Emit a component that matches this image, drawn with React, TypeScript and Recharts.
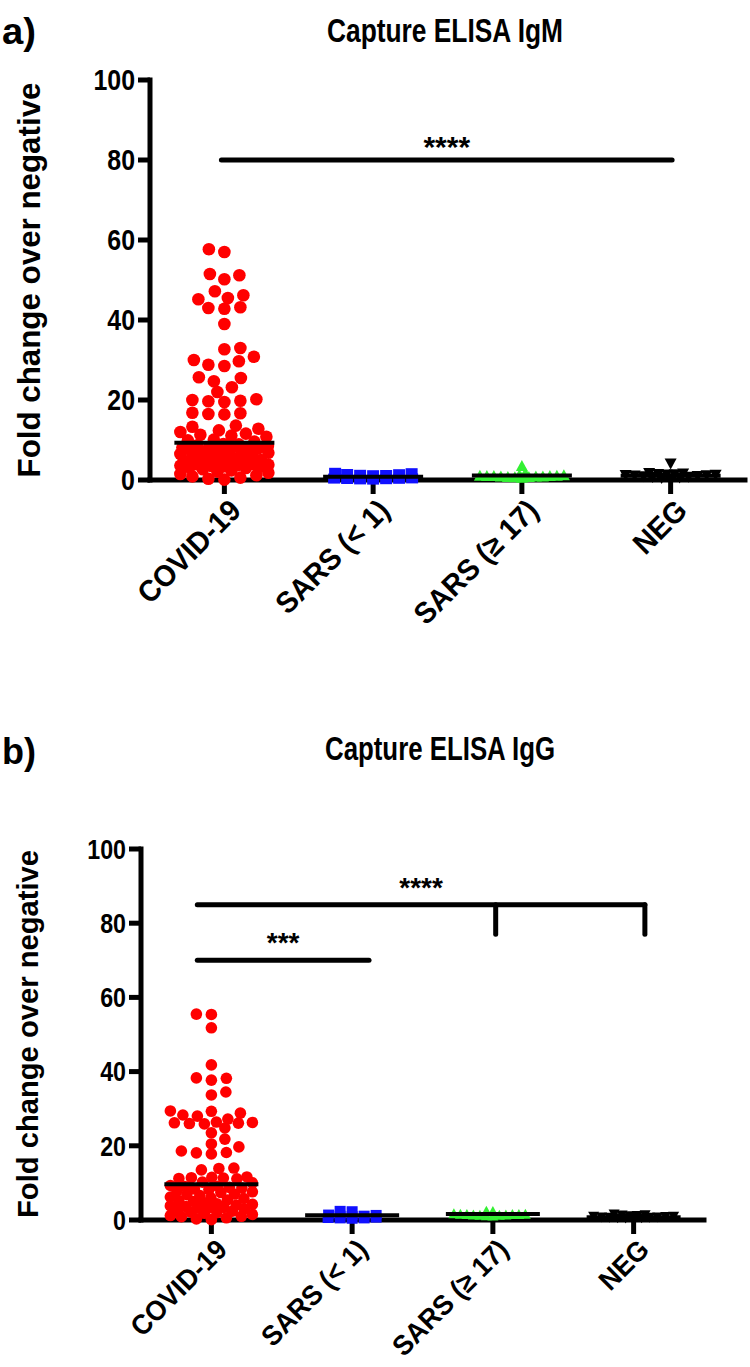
import React from 'react';
import { ScatterChart, Scatter, XAxis, YAxis, ReferenceLine } from 'recharts';

const groups = ['COVID-19', 'SARS (< 1)', 'SARS (\u2265 17)', 'NEG'];
const yTicks = [0, 20, 40, 60, 80, 100];
const xTicks = [0.5, 1.5, 2.5, 3.5];

// a) Capture ELISA IgM
const igmCovid = [
  57.7, 57.0, 51.5, 51.2, 50.2, 47.2, 46.2, 45.5, 45.2, 43.2, 43.0, 42.8, 39.0, 33.0, 32.7,
  30.8, 30.0, 29.7, 28.8, 28.5, 25.7, 25.5, 24.7, 23.2, 22.0, 20.2, 19.7, 19.5, 19.8, 20.0,
  16.8, 16.5, 16.4, 16.7, 13.6, 12.8, 12.0, 11.3, 10.8, 11.1, 11.6, 12.4, 13.3, 10.1, 9.9, 9.6,
  0.1, 0.3, 0.6, 0.9, 1.2, 1.5, 1.8, 2.1, 2.4, 2.7, 3.0,
  3.2, 3.3, 3.4, 3.5, 3.6, 3.7, 3.8, 3.9, 4.0, 4.1,
  4.4, 4.7, 5.0, 5.3, 5.6, 5.9, 6.2, 6.5, 6.8, 7.1,
  7.3, 7.5, 7.7, 7.9, 8.1, 8.3, 8.5, 8.7, 8.9, 9.0,
  6.0, 5.0, 4.5, 7.0, 8.0,
];
const igmSars1 = [1.7, 1.5, 1.3, 1.2, 1.25, 1.45, 1.8, 0.1, 0.15, 0.2, 0.25, 0.3, 0.35, 0.4];
const igmSars17 = [1.0, 1.1, 0.9, 1.2, 1.0, 1.3, 1.1, 0.8, 1.0, 1.2, 1.4, 0.7, 0.9, 1.1, 1.8, 3.6];
const igmNeg = [4.0, 1.6, 1.5, 1.4, 1.3, 1.2, 1.1, 1.0, 0.9, 0.8, 0.7, 0.6, 0.5, 0.4, 0.3, 1.25, 1.05];

// b) Capture ELISA IgG
const iggCovid = [
  55.5, 55.4, 51.8, 41.8, 38.3, 38.2, 37.7, 34.5, 33.7, 29.4, 29.3, 28.8, 28.3, 28.0, 27.2,
  26.4, 26.3, 26.1, 26.0, 26.2, 25.9, 24.8, 23.5, 21.8, 20.5, 19.7, 18.6, 18.1, 18.2, 17.8,
  14.0, 13.9, 13.5, 11.6, 11.4, 11.2, 11.1, 11.3, 11.5, 10.2, 10.0,
  0.1, 0.3, 0.6, 0.9, 1.2, 1.5, 1.8, 2.1, 2.4, 2.7, 3.0,
  3.2, 3.4, 3.6, 3.8, 4.0, 4.2,
  4.6, 5.0, 5.4, 5.8, 6.2, 6.6, 7.0, 7.4, 7.8, 8.2, 8.6, 9.0, 9.3,
  5.2, 6.0, 6.8, 7.6, 8.4, 9.1, 4.4, 3.3, 2.0, 1.0, 8.8,
];
const iggSars1 = [2.6, 1.6, 1.3, 1.2, 1.3, 1.5, 2.5, 0.3, 0.4, 0.5, 0.2, 0.3];
const iggSars17 = [1.6, 1.5, 1.7, 1.4, 1.6, 1.8, 1.5, 1.3, 1.6, 1.4, 1.7, 2.4, 2.5, 1.2];
const iggNeg = [1.5, 1.2, 1.1, 1.0, 0.9, 0.9, 0.8, 0.7, 0.7, 0.6, 0.5, 0.5, 0.4, 0.3, 1.3, 0.6];

// significance brackets, in axis units
const igmBars = [{ x1: 0.48, x2: 3.51, y: 80, stars: '****', gap: 3 }];
const iggBars = [
  { x1: 0.4, x2: 3.58, y: 85, stars: '****', gap: 8 },
  { x1: 0.4, x2: 1.62, y: 70, stars: '***', gap: 8 },
];
const iggDrops = [
  { x: 2.52, y1: 85, y2: 77 },
  { x: 3.58, y1: 85, y2: 77 },
];

const FONT = "'Liberation Sans', Arial, Helvetica, sans-serif";

// simple beeswarm: lowest values go in the middle, the rest pushed sideways
function swarm(values: number[], ppu: number, w: number, h: number, cap: number) {
  const idx = values.map((_, i) => i).sort((a, b) => values[a] - values[b]);
  const placed: { x: number; y: number }[] = [];
  const out = new Array(values.length).fill(0);
  idx.forEach((i, k) => {
    const y = values[i] * ppu;
    const first = k % 2 === 0 ? 1 : -1;
    let best = 0;
    let bestD = -1;
    let done = false;
    for (let m = 0; m <= cap && !done; m += 0.5) {
      for (const s of m === 0 ? [1] : [first, -first]) {
        const x = s * m;
        let d = Infinity;
        for (const p of placed) {
          const dd = Math.hypot((x - p.x) / w, (y - p.y) / h);
          if (dd < d) d = dd;
        }
        if (d >= 1) { best = x; done = true; break; }
        if (d > bestD + 1e-9) { bestD = d; best = x; }
      }
    }
    out[i] = best;
    placed.push({ x: best, y });
  });
  return out;
}

function median(v: number[]) {
  const s = [...v].sort((a, b) => a - b);
  const n = s.length;
  return n % 2 ? s[(n - 1) / 2] : (s[n / 2 - 1] + s[n / 2]) / 2;
}

const dot = (r: number, fill: string) => (p: any) => <circle cx={p.cx} cy={p.cy} r={r} fill={fill} />;
const box = (w: number, h: number, fill: string) => (p: any) => (
  <rect x={p.cx - w / 2} y={p.cy - h / 2} width={w} height={h} fill={fill} />
);
const tri = (w: number, h: number, fill: string, down = false) => (p: any) => {
  const tip = down ? p.cy + h / 2 : p.cy - h / 2;
  const base = down ? p.cy - h / 2 : p.cy + h / 2;
  return <polygon points={`${p.cx},${tip} ${p.cx - w / 2},${base} ${p.cx + w / 2},${base}`} fill={fill} />;
};

function Panel(props: any) {
  const { g, sets, bars, drops } = props;
  const data = sets.map((s: any, gi: number) => {
    const off = swarm(s.values, g.ppu, s.w, s.h, s.cap);
    return s.values.map((v: number, i: number) => ({ x: gi + 0.5 + off[i] / g.catPx, y: v }));
  });
  const means = sets.map((s: any, gi: number) => ({ x: gi + 0.5, y: median(s.values) }));
  const meanShape = (p: any) => (
    <line x1={p.cx - g.meanHalf} x2={p.cx + g.meanHalf} y1={p.cy} y2={p.cy} stroke="#000" strokeWidth={4} />
  );
  const axisStyle = { stroke: '#000', strokeWidth: 5, strokeLinecap: 'square' as const };

  return (
    <div style={{ position: 'absolute', left: 0, top: g.top }}>
      <ScatterChart
        width={750}
        height={g.height}
        margin={{ top: g.marginTop, right: g.marginRight, bottom: 0, left: 0 }}
      >
        <XAxis
          type="number"
          dataKey="x"
          domain={[0, 4]}
          ticks={xTicks}
          interval={0}
          height={g.xAxisHeight}
          axisLine={axisStyle}
          tickLine={{ stroke: '#000', strokeWidth: 5 }}
          tickSize={14}
          tickMargin={0}
          tick={(tp: any) => (
            <g transform={`translate(${tp.x + 3},${tp.y + 3}) rotate(-45) scale(0.95,1)`}>
              <text
                textAnchor="end"
                dy={g.xFont * 0.72}
                fontSize={g.xFont}
                fontWeight="bold"
                fontFamily={FONT}
                fill="#000"
              >
                {groups[Math.floor(tp.payload.value)]}
              </text>
            </g>
          )}
        />
        <YAxis
          type="number"
          dataKey="y"
          domain={[0, 100]}
          ticks={yTicks}
          width={g.yAxisWidth}
          axisLine={axisStyle}
          tickLine={{ stroke: '#000', strokeWidth: 5 }}
          tickSize={12}
          tickMargin={3}
          tick={(tp: any) => (
            <g transform={`translate(${tp.x},${tp.y}) scale(0.86,1)`}>
              <text textAnchor="end" dy="0.36em" fontSize={g.yFont} fontWeight="bold" fontFamily={FONT} fill="#000">
                {tp.payload.value}
              </text>
            </g>
          )}
        />
        {bars.map((b: any, i: number) => (
          <ReferenceLine
            key={`bar${i}`}
            segment={[{ x: b.x1, y: b.y }, { x: b.x2, y: b.y }]}
            stroke="#000"
            strokeWidth={5}
            strokeLinecap="round"
            label={(lp: any) => (
              <text
                x={lp.viewBox.x + lp.viewBox.width / 2}
                y={lp.viewBox.y - b.gap}
                textAnchor="middle"
                fontSize={g.starFont}
                fontFamily={FONT}
                fontWeight="bold"
                fill="#000"
              >
                {b.stars}
              </text>
            )}
          />
        ))}
        {drops.map((d: any, i: number) => (
          <ReferenceLine
            key={`drop${i}`}
            segment={[{ x: d.x, y: d.y1 }, { x: d.x, y: d.y2 }]}
            stroke="#000"
            strokeWidth={5}
            strokeLinecap="round"
          />
        ))}
        {sets.map((s: any, gi: number) => (
          <Scatter key={groups[gi]} data={data[gi]} shape={s.shape} isAnimationActive={false} />
        ))}
        <Scatter data={means} shape={meanShape} isAnimationActive={false} />
      </ScatterChart>
    </div>
  );
}

const topGeom = {
  top: 0, height: 680, marginTop: 80, marginRight: 5, yAxisWidth: 150, xAxisHeight: 200,
  ppu: 4, catPx: 148.75, meanHalf: 50, xFont: 30, yFont: 29, starFont: 30,
};
const botGeom = {
  top: 700, height: 667, marginTop: 149, marginRight: 46, yAxisWidth: 141, xAxisHeight: 147,
  ppu: 3.71, catPx: 140.75, meanHalf: 47, xFont: 28, yFont: 27, starFont: 28,
};

const topSets = [
  { values: igmCovid, shape: dot(6.3, '#ff0000'), w: 16, h: 11, cap: 44 },
  { values: igmSars1, shape: box(12, 10, '#1010ff'), w: 13, h: 3, cap: 42 },
  { values: igmSars17, shape: tri(12, 11, '#33f033'), w: 7, h: 3, cap: 42 },
  { values: igmNeg, shape: tri(12, 11, '#000', true), w: 9, h: 5, cap: 46 },
];
const botSets = [
  { values: iggCovid, shape: dot(5.8, '#ff0000'), w: 15, h: 10, cap: 41 },
  { values: iggSars1, shape: box(11, 9, '#1010ff'), w: 12, h: 3, cap: 40 },
  { values: iggSars17, shape: tri(11, 10, '#33f033'), w: 6.5, h: 3, cap: 40 },
  { values: iggNeg, shape: tri(11, 10, '#000', true), w: 8, h: 5, cap: 44 },
];

export default function App() {
  return (
    <div style={{ position: 'absolute', left: 0, top: 0, width: 750, height: 1367, background: '#fff' }}>
      <Panel g={topGeom} sets={topSets} bars={igmBars} drops={[]} />
      <Panel g={botGeom} sets={botSets} bars={iggBars} drops={iggDrops} />
      <svg width={750} height={1367} style={{ position: 'absolute', left: 0, top: 0, pointerEvents: 'none' }}>
        <text x={2} y={44} fontSize={36} fontWeight="bold" fontFamily={FONT} textLength={34} lengthAdjust="spacingAndGlyphs">a)</text>
        <text x={445} y={42} textAnchor="middle" fontSize={34} fontWeight="bold" fontFamily={FONT} textLength={236} lengthAdjust="spacingAndGlyphs">
          Capture ELISA IgM
        </text>
        <text
          transform="translate(40,280) rotate(-90)"
          textAnchor="middle"
          fontSize={31}
          fontWeight="bold"
          fontFamily={FONT}
          textLength={395}
          lengthAdjust="spacingAndGlyphs"
        >
          Fold change over negative
        </text>
        <text x={2} y={764} fontSize={36} fontWeight="bold" fontFamily={FONT} textLength={34} lengthAdjust="spacingAndGlyphs">b)</text>
        <text x={440} y={760} textAnchor="middle" fontSize={34} fontWeight="bold" fontFamily={FONT} textLength={230} lengthAdjust="spacingAndGlyphs">
          Capture ELISA IgG
        </text>
        <text
          transform="translate(38,1034) rotate(-90)"
          textAnchor="middle"
          fontSize={29}
          fontWeight="bold"
          fontFamily={FONT}
          textLength={368}
          lengthAdjust="spacingAndGlyphs"
        >
          Fold change over negative
        </text>
      </svg>
    </div>
  );
}
